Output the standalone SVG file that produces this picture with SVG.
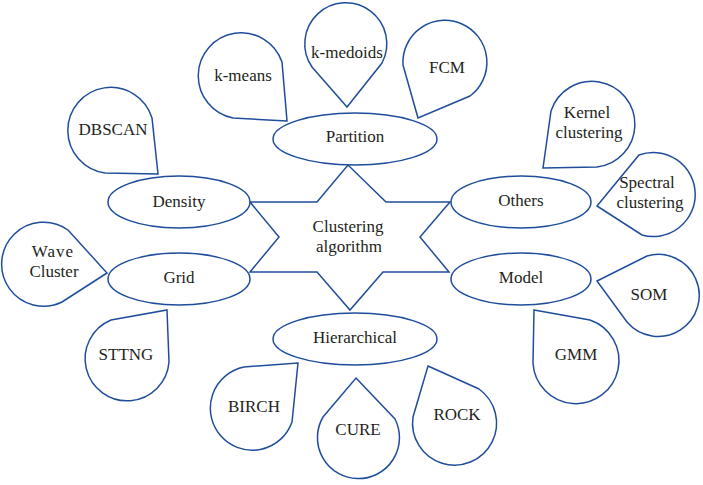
<svg xmlns="http://www.w3.org/2000/svg" width="703" height="485" viewBox="0 0 703 485">
<style>
.s{fill:#fff;stroke:#1f4d9b;stroke-width:1.5;stroke-linejoin:miter}
.t{font-family:'Liberation Serif','Times New Roman',serif;font-size:17px;fill:#231f20;text-anchor:middle}
</style>
<rect width="703" height="485" fill="#fff"/>
<g id="connectors"></g>
<g id="center">
<polygon class="s" points="250,202 317,202 348,165 386,202 450,202 420,237 449,272 383,272 350,310 317,272 250,272 279,237"/>
<text class="t" x="348" y="232">Clustering</text>
<text class="t" x="349" y="252">algorithm</text>
</g>
<g id="partition"><ellipse class="s" cx="355" cy="139" rx="82" ry="26"/><text class="t" x="355" y="142">Partition</text></g>
<g id="density"><ellipse class="s" cx="179" cy="202" rx="71" ry="26"/><text class="t" x="179" y="207">Density</text></g>
<g id="grid"><ellipse class="s" cx="179" cy="279" rx="71" ry="26"/><text class="t" x="179" y="283">Grid</text></g>
<g id="others"><ellipse class="s" cx="521" cy="202" rx="70" ry="26"/><text class="t" x="521" y="206">Others</text></g>
<g id="model"><ellipse class="s" cx="521" cy="279" rx="70" ry="26"/><text class="t" x="521" y="283">Model</text></g>
<g id="hierarchical"><ellipse class="s" cx="355" cy="339" rx="82" ry="26"/><text class="t" x="355" y="343">Hierarchical</text></g>
<g id="kmeans"><path class="s" d="M287 121 L233 118 A43 43 0 1 1 282 62 Z"/><text class="t" x="243" y="81">k-means</text></g>
<g id="kmedoids"><path class="s" d="M347 107 L312 67 A41 41 0 1 1 382 63 Z"/><text class="t" x="347" y="58">k-medoids</text></g>
<g id="fcm"><path class="s" d="M418 118 L403 65 A42 42 0 1 1 470 96 Z"/><text class="t" x="447" y="73">FCM</text></g>
<g id="dbscan"><path class="s" d="M158 174 L105 173 A43 43 0 1 1 152 118 Z"/><text class="t" x="113" y="135">DBSCAN</text></g>
<g id="wavecluster"><path class="s" d="M107 273 L62 302 A42 42 0 1 1 68 230 Z"/><text class="t" x="53" y="257" letter-spacing="1">Wave</text><text class="t" x="54" y="277">Cluster</text></g>
<g id="sttng"><path class="s" d="M167 310 L169 362 A42 42 0 1 1 111 320 Z"/><text class="t" x="126" y="360">STTNG</text></g>
<g id="birch"><path class="s" d="M298 363 L292 422 A42 42 0 1 1 244 367 Z"/><text class="t" x="254" y="412">BIRCH</text></g>
<g id="cure"><path class="s" d="M356 378 L395 419 A41 41 0 1 1 323 417 Z"/><text class="t" x="358" y="435">CURE</text></g>
<g id="rock"><path class="s" d="M428 366 L479 389 A42 42 0 1 1 413 417 Z"/><text class="t" x="457" y="420">ROCK</text></g>
<g id="kernel"><path class="s" d="M543 168 L551 111 A43 43 0 1 1 597 167 Z"/><text class="t" x="587" y="118">Kernel</text><text class="t" x="589" y="138">clustering</text></g>
<g id="spectral"><path class="s" d="M597 206 L639 155 A42 42 0 1 1 642 235 Z"/><text class="t" x="647" y="188">Spectral</text><text class="t" x="650" y="208">clustering</text></g>
<g id="som"><path class="s" d="M597 281 L647 256 A41 41 0 1 1 627 322 Z"/><text class="t" x="649" y="300">SOM</text></g>
<g id="gmm"><path class="s" d="M534 310 L590 320 A43 43 0 1 1 533 363 Z"/><text class="t" x="576" y="360">GMM</text></g>
</svg>
